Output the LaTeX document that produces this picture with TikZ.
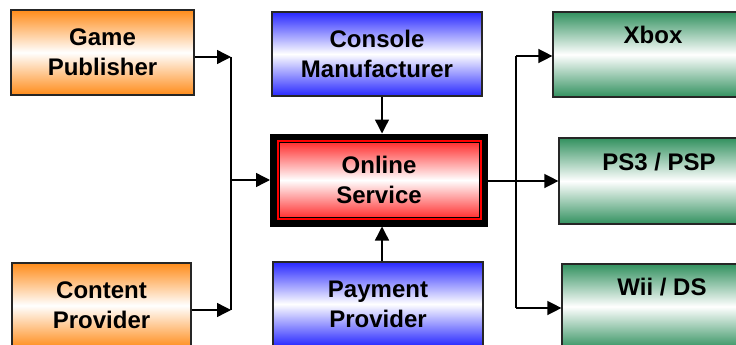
\documentclass[tikz,border=0pt]{standalone}
\usepackage{fontspec}
\setmainfont{Liberation Sans}
\usetikzlibrary{arrows.meta,fit}

\definecolor{pubOrange}{RGB}{255,140,26}
\definecolor{mfrBlue}{RGB}{40,40,255}
\definecolor{svcRed}{RGB}{255,50,50}
\definecolor{devGreen}{RGB}{50,145,95}

\begin{document}
\begin{tikzpicture}[
    x=1pt, y=-1pt,
    mybox/.style={draw=black!85, line width=1.2pt, inner sep=0pt, align=center,
        font=\fontsize{24}{30}\selectfont\bfseries},
    pubbox/.style={mybox, top color=pubOrange, bottom color=pubOrange, middle color=white},
    mfrbox/.style={mybox, top color=mfrBlue, bottom color=mfrBlue, middle color=white},
    svcbox/.style={mybox, draw=black, line width=1pt, top color=svcRed, bottom color=svcRed, middle color=white},
    devbox/.style={mybox, top color=devGreen, bottom color=devGreen, middle color=white},
    link/.style={line width=1.4pt},
    flow/.style={link, -{Triangle[length=14pt, width=14pt]}}
]
    \useasboundingbox (0,0) rectangle (736,345);
    \clip (0,0) rectangle (736,345);

    % Suppliers on the left
    \node[pubbox, minimum width=183pt, minimum height=85pt] (pub) at (102.5,52.5) {Game\\Publisher};
    \node[pubbox, minimum width=179pt, minimum height=85pt] (cont) at (101.5,305.5) {Content\\Provider};

    % Middle column
    \node[mfrbox, minimum width=210pt, minimum height=84pt] (cons) at (377,54) {Console\\Manufacturer};
    \node[mfrbox, minimum width=210pt, minimum height=84pt] (pay) at (378,304) {Payment\\Provider};

    % Online service with its double frame
    \node[svcbox, minimum width=200pt, minimum height=75pt] (online) at (379,180) {Online\\Service};
    \node[fit=(online), inner sep=5pt, draw=black, line width=7pt] (svcframe) {};
    \node[fit=(online), inner sep=1pt, draw=red, line width=2pt] (svcline) {};

    % Platforms on the right
    \node[devbox, minimum width=200pt, minimum height=85pt] (xbox) at (653,54.5) {Xbox\\\strut};
    \node[devbox, minimum width=200pt, minimum height=86pt] (ps3) at (659,181) {PS3 / PSP\\\strut};
    \node[devbox, minimum width=200pt, minimum height=85pt] (wii) at (662,306.5) {Wii / DS\\\strut};

    % Left bus
    \coordinate (lbtop) at (231,57);
    \coordinate (lbbot) at (231,310);
    \draw[flow] (pub.east |- lbtop) -- (lbtop);
    \draw[flow] (cont.east |- lbbot) -- (lbbot);
    \draw[link] (lbtop) -- (lbbot);
    \draw[flow] (lbtop |- svcframe.west) -- (svcframe.west);

    % Vertical feeds
    \draw[flow] ([xshift=5pt]cons.south) -- ([xshift=5pt]cons.south |- svcframe.north);
    \draw[flow] ([xshift=4pt]pay.north) -- ([xshift=4pt]pay.north |- svcframe.south);

    % Right bus
    \coordinate (rbtop) at (516,56);
    \coordinate (rbbot) at (516,308);
    \draw[flow] (svcframe.east |- ps3.west) -- (ps3.west);
    \draw[link] (rbtop) -- (rbbot);
    \draw[flow] (rbtop) -- (rbtop -| xbox.west);
    \draw[flow] (rbbot) -- (rbbot -| wii.west);
\end{tikzpicture}
\end{document}
